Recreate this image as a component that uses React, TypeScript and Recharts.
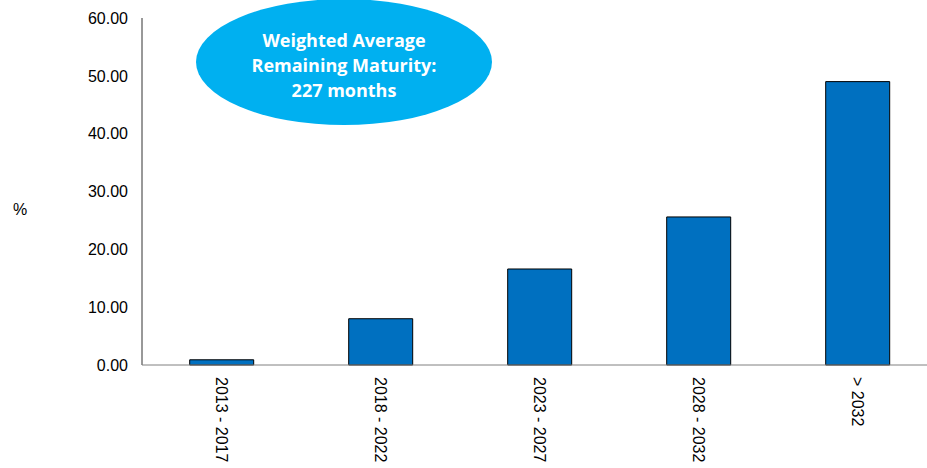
import { BarChart, Bar, XAxis, YAxis } from 'recharts'

const categories = ['2013 - 2017', '2018 - 2022', '2023 - 2027', '2028 - 2032', '> 2032']
const shares = [0.9, 8.0, 16.6, 25.6, 49.0]
const yTicks = [0, 10, 20, 30, 40, 50, 60]
const calloutLines = ['Weighted Average', 'Remaining Maturity:', '227 months']

const data = categories.map((c, i) => ({ period: c, share: shares[i] }))

const font = "'Liberation Sans', Arial, sans-serif"

const RotatedTick = (props: any) => {
  const { x, y, payload } = props
  return (
    <text
      transform={`translate(${x},${y}) rotate(90)`}
      textAnchor="start"
      dominantBaseline="central"
      fontSize={16}
      fill="#000"
      fontFamily={font}
    >
      {payload.value}
    </text>
  )
}

export default function App() {
  return (
    <div style={{ position: 'absolute', left: 0, top: 0, width: 937, height: 468 }}>
      <BarChart
        width={937}
        height={468}
        data={data}
        margin={{ top: 18, right: 0, bottom: 0, left: 0 }}
        barCategoryGap="30%"
      >
        <YAxis
          domain={[0, 60]}
          ticks={yTicks}
          tickFormatter={(v) => Number(v).toFixed(2)}
          width={142}
          tickLine={false}
          tickSize={6}
          tickMargin={8}
          axisLine={{ stroke: '#333' }}
          tick={{ fontSize: 16, fill: '#000', fontFamily: font }}
        />
        <XAxis
          dataKey="period"
          height={103}
          tickLine={false}
          tickSize={6}
          tickMargin={6}
          interval={0}
          axisLine={{ stroke: '#808080' }}
          tick={<RotatedTick />}
        />
        <Bar dataKey="share" fill="#0070C0" stroke="#000" strokeWidth={1} isAnimationActive={false} />
      </BarChart>
      <svg width={937} height={468} style={{ position: 'absolute', left: 0, top: 0, pointerEvents: 'none' }}>
        <text x={20} y={209} fontSize={16} textAnchor="middle" dominantBaseline="central"
          fontFamily={font}>%</text>
        <ellipse cx={344} cy={62} rx={148} ry={63} fill="#00B0F0" />
        {calloutLines.map((t, i) => (
          <text key={t} x={344} y={40 + i * 25} textAnchor="middle" dominantBaseline="central"
            fontSize={18} fontWeight="bold" fill="#fff" fontFamily="'Open Sans', sans-serif">{t}</text>
        ))}
      </svg>
    </div>
  )
}
